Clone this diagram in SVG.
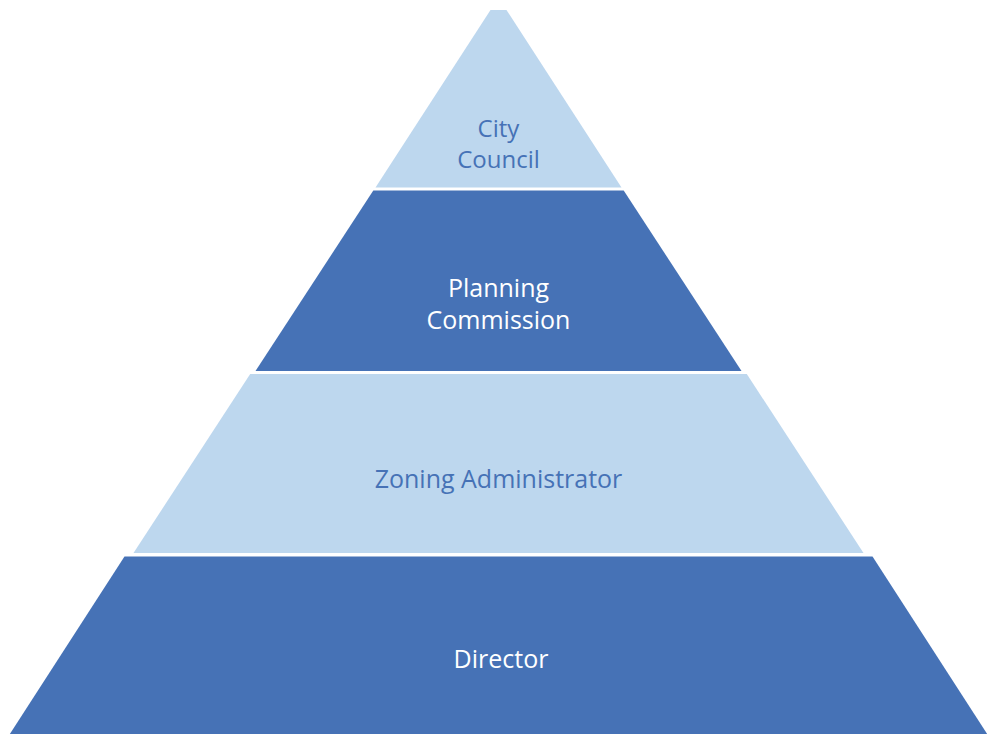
<svg xmlns="http://www.w3.org/2000/svg" width="987" height="734" viewBox="0 0 987 734">
  <style>
    .light { fill: #BDD7EE; }
    .dark { fill: #4672B6; }
    text { font-family: "Open Sans", "Liberation Sans", sans-serif; font-size: 25px; text-anchor: middle; }
    .tl { fill: #4672B6; }
    .td { fill: #FFFFFF; }
  </style>
  <rect x="0" y="0" width="987" height="734" fill="#FFFFFF"/>
  <g id="city-council">
    <polygon class="light" points="490.5,10 506.5,10 621.5,187.5 375.5,187.5"/>
    <text class="tl" x="498.5" y="136.5" style="font-size:24px">City</text>
    <text class="tl" x="498.5" y="168" style="font-size:24px">Council</text>
  </g>
  <g id="planning-commission">
    <polygon class="dark" points="373.3,190.5 623.7,190.5 741.5,371 255.5,371"/>
    <text class="td" x="498.5" y="296.5">Planning</text>
    <text class="td" x="498.5" y="328.5">Commission</text>
  </g>
  <g id="zoning-administrator">
    <polygon class="light" points="250.2,374 746.8,374 863.5,553 133.5,553"/>
    <text class="tl" x="498.5" y="487.7">Zoning Administrator</text>
  </g>
  <g id="director">
    <polygon class="dark" points="124.5,556.5 872.5,556.5 991,740 6,740"/>
    <text class="td" x="501" y="668">Director</text>
  </g>
</svg>
